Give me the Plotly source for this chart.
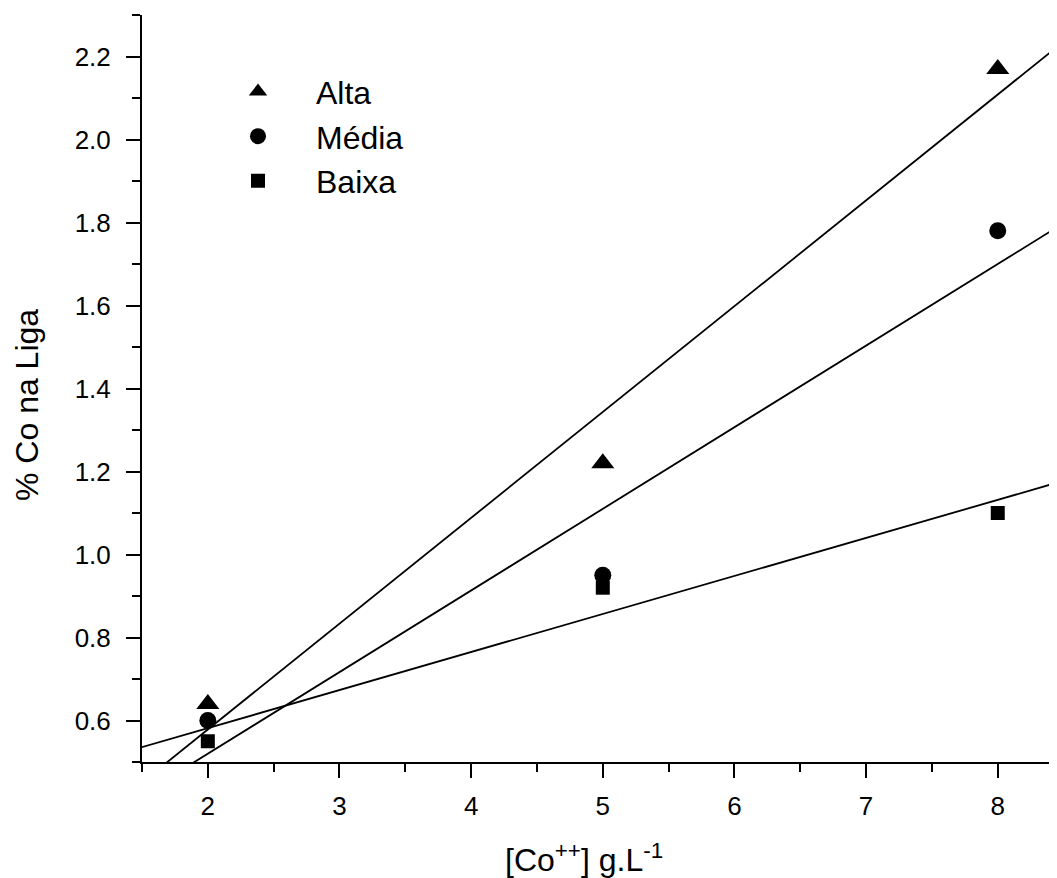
import numpy as np
import plotly.graph_objects as go

# Data
conc = [2, 5, 8]
alta = [0.64, 1.22, 2.17]
media = [0.60, 0.95, 1.78]
baixa = [0.55, 0.92, 1.10]

series_names = ["Alta", "Média", "Baixa"]
series_vals = [alta, media, baixa]
symbols = ["triangle-up", "circle", "square"]
msizes = [20, 17, 14]

x_range = [1.5, 8.45]
y_range = [0.5, 2.3]

FONT = "Liberation Sans, Arial, sans-serif"

# The page has an 8px body margin; figure sized so it fills the window.
OFF = 8
W, H = 1057 - OFF, 878 - OFF
ML, MT, MR = 142 - OFF, 15 - OFF, 0
MB = H - (762 - OFF)

fig = go.Figure()

# Linear fit lines
for vals in series_vals:
    slope, icpt = np.polyfit(conc, vals, 1)
    xs = np.array([1.0, 9.0])
    fig.add_trace(go.Scatter(x=xs, y=slope * xs + icpt, mode="lines",
                             line=dict(color="black", width=1.8),
                             showlegend=False, hoverinfo="skip"))

for name, vals, sym, ms in zip(series_names, series_vals, symbols, msizes):
    fig.add_trace(go.Scatter(x=conc, y=vals, mode="markers", name=name,
                             marker=dict(symbol=sym, size=ms, color="black",
                                         line=dict(width=0))))

axis_common = dict(showline=True, linecolor="black", linewidth=2,
                   ticks="outside", tickwidth=2, tickcolor="black",
                   showgrid=False, zeroline=False,
                   tickfont=dict(family=FONT, size=26, color="black"))

fig.update_xaxes(range=x_range, tick0=2, dtick=1, ticklen=14,
                 ticklabelstandoff=6,
                 minor=dict(ticks="outside", dtick=0.5, tick0=1.5, ticklen=8,
                            tickwidth=2, tickcolor="black", showgrid=False),
                 **axis_common)
fig.update_yaxes(range=y_range, tick0=0.6, dtick=0.2, ticklen=14,
                 tickformat=".1f", ticklabelstandoff=10,
                 minor=dict(ticks="outside", dtick=0.1, tick0=0.5, ticklen=8,
                            tickwidth=2, tickcolor="black", showgrid=False),
                 **axis_common)

# Axis titles, positions given in window pixels
titles = [
    dict(text="% Co na Liga", px=27, py=405, angle=-90),
    dict(text="[Co<sup>++</sup>] g.L<sup>-1</sup>", px=584, py=858, angle=0),
]
pw = W - ML - MR
ph = H - MT - MB
for t in titles:
    fig.add_annotation(text=t["text"],
                       x=((t["px"] - OFF) - ML) / pw,
                       y=((H - MB) - (t["py"] - OFF)) / ph,
                       xref="paper", yref="paper", showarrow=False,
                       textangle=t["angle"], xanchor="center", yanchor="middle",
                       font=dict(family=FONT, size=32, color="black"))

fig.update_layout(
    width=W, height=H,
    margin=dict(l=ML, r=MR, t=MT, b=MB),
    paper_bgcolor="white", plot_bgcolor="white",
    showlegend=True,
    legend=dict(x=(200 - OFF - ML) / pw, y=0.934, xanchor="left", yanchor="top",
                bgcolor="rgba(0,0,0,0)", itemwidth=106,
                font=dict(family=FONT, size=32, color="black")),
)

fig.write_html("out.html")
